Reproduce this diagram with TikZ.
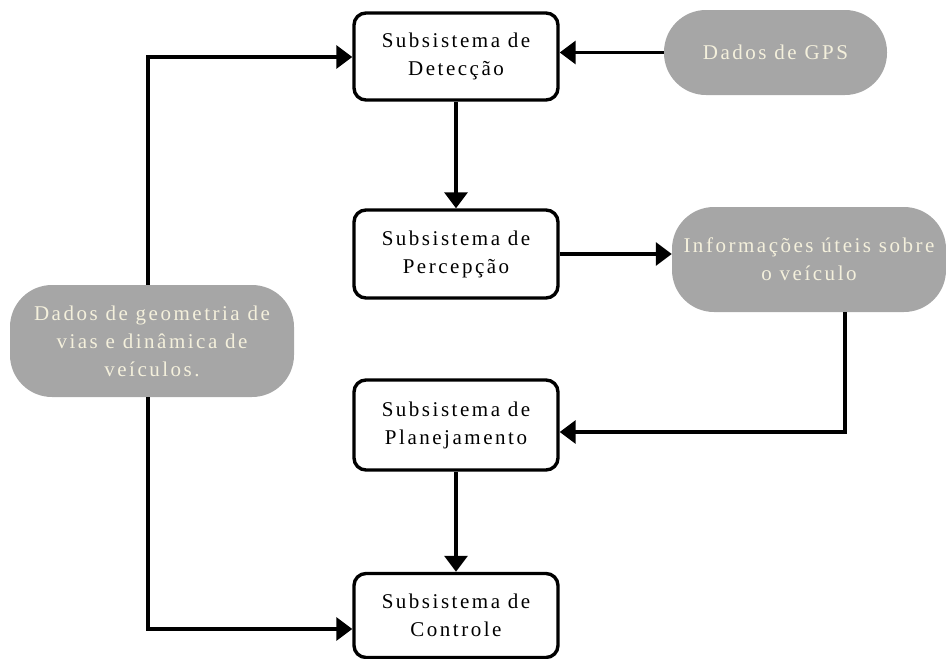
\documentclass[tikz,border=0pt]{standalone}
\usepackage{fontspec}
\setmainfont{Liberation Serif}[LetterSpace=12]
\usetikzlibrary{arrows.meta}
\definecolor{pillgray}{HTML}{A6A6A6}
\definecolor{pilltext}{HTML}{F4F0DC}
\tikzset{
  every picture/.style={x=1pt,y=-1pt},
  subbox/.style={draw=black, line width=3.4pt, rounded corners=12pt, fill=white,
    minimum width=204pt, align=center, font=\fontsize{21}{28}\selectfont, inner sep=0pt},
  pill/.style={fill=pillgray, rounded corners=42pt, align=center, text=pilltext,
    font=\fontsize{21}{28}\selectfont, inner sep=0pt},
  flow/.style={line width=3.4pt, -{Triangle[length=16pt,width=23pt]}},
}
\begin{document}
\begin{tikzpicture}
\useasboundingbox (0,0) rectangle (946,659);

% subsystem blocks
\node[subbox, minimum height=87pt] (det) at (456,56.5) {Subsistema de\\Detecção};
\node[subbox, minimum height=88pt] (per) at (456,254) {Subsistema de\\Percepção};
\node[subbox, minimum height=90pt] (pla) at (456,425) {Subsistema de\\Planejamento};
\node[subbox, minimum height=84pt] (con) at (456,615.5) {Subsistema de\\Controle};

% data sources
\node[pill, minimum width=223pt, minimum height=85pt] (gps) at (775.5,52.5) {Dados de GPS};
\node[pill, minimum width=274pt, minimum height=105pt] (inf) at (809,259.5) {Informações úteis sobre\\o veículo};
\node[pill, minimum width=284pt, minimum height=112pt] (geo) at (152,341) {Dados de geometria de\\vias e dinâmica de\\veículos.};

% connector waypoints
\coordinate (geoUp) at (148,57);
\coordinate (geoDown) at (148,629);
\coordinate (infCorner) at (845,432);

% connectors
\draw[flow] (det.south) -- (per.north);
\draw[flow] (pla.south) -- (con.north);
\draw[flow] (gps.west) -- (det.east |- gps.west);
\draw[flow] (per.east) -- (inf.west |- per.east);
\draw[flow] (inf.south -| infCorner) -- (infCorner) -- (pla.east |- infCorner);
\draw[flow] (geo.north -| geoUp) -- (geoUp) -- (det.west |- geoUp);
\draw[flow] (geo.south -| geoDown) -- (geoDown) -- (con.west |- geoDown);
\end{tikzpicture}
\end{document}
